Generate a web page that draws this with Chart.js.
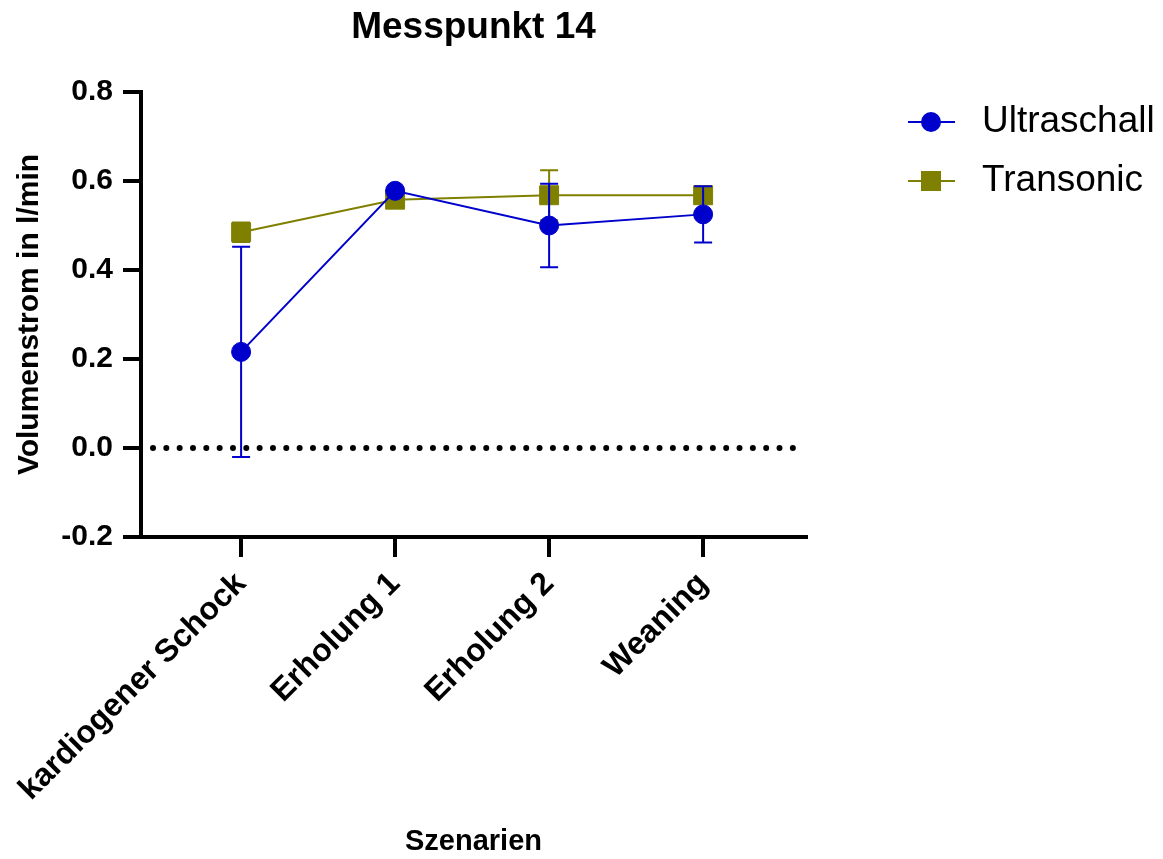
<!DOCTYPE html>
<html><head><meta charset="utf-8">
<script src="https://cdn.jsdelivr.net/npm/chart.js@4/dist/chart.umd.min.js"></script>
<style>html,body{margin:0;padding:0;background:#fff}#wrap{width:1163px;height:859px}</style>
</head><body><div id="wrap"><canvas id="c" width="1163" height="859"></canvas></div>
<script>
const categories = ['kardiogener Schock', 'Erholung 1', 'Erholung 2', 'Weaning'];
const ultraschallMean = [0.216, 0.578, 0.500, 0.525];
const ultraschallErr = [0.236, 0, 0.094, 0.063];
const transonicMean = [0.485, 0.558, 0.568, 0.568];
const transonicErr = [0.022, 0, 0.056, 0];
const yTickValues = [-0.2, 0, 0.2, 0.4, 0.6, 0.8];
const seriesNames = ['Ultraschall', 'Transonic'];

const FONT = "'Liberation Sans', Arial, Helvetica, sans-serif";
const BLUE = '#0000CC';
const OLIVE = '#808000';
Chart.defaults.color = '#000';
Chart.defaults.font.family = FONT;

const errorSets = [
  {mean: ultraschallMean, err: ultraschallErr, color: BLUE},
  {mean: transonicMean, err: transonicErr, color: OLIVE}
];

const errorBarPlugin = {
  id: 'errorBars',
  beforeDatasetDraw(chart, args) {
    const spec = errorSets[args.index];
    if (!spec) return;
    const {ctx, scales: {x, y}} = chart;
    ctx.save();
    ctx.strokeStyle = spec.color;
    ctx.lineWidth = 2;
    spec.mean.forEach((m, k) => {
      const e = spec.err[k];
      if (!e) return;
      const px = x.getPixelForValue(k);
      const yt = y.getPixelForValue(m + e);
      const yb = y.getPixelForValue(m - e);
      ctx.beginPath();
      ctx.moveTo(px, yt); ctx.lineTo(px, yb);
      ctx.moveTo(px - 9, yt); ctx.lineTo(px + 9, yt);
      ctx.moveTo(px - 9, yb); ctx.lineTo(px + 9, yb);
      ctx.stroke();
    });
    ctx.restore();
  }
};

const zeroLinePlugin = {
  id: 'zeroLine',
  beforeDatasetsDraw(chart) {
    const {ctx, chartArea, scales: {y}} = chart;
    const py = y.getPixelForValue(0);
    ctx.save();
    ctx.strokeStyle = '#000';
    ctx.lineWidth = 6;
    ctx.lineCap = 'round';
    ctx.setLineDash([0, 13.33]);
    ctx.beginPath();
    ctx.moveTo(chartArea.left + 12, py);
    ctx.lineTo(chartArea.right - 8, py);
    ctx.stroke();
    ctx.restore();
  }
};

const legendPlugin = {
  id: 'customLegend',
  afterDraw(chart) {
    const {ctx} = chart;
    const x0 = 908, x1 = 955, xm = 931, tx = 982;
    const rows = [122, 181];
    chart.data.datasets.forEach((ds, i) => {
      const yy = rows[i];
      ctx.save();
      ctx.strokeStyle = ds.borderColor;
      ctx.lineWidth = 2;
      ctx.beginPath(); ctx.moveTo(x0, yy); ctx.lineTo(x1, yy); ctx.stroke();
      ctx.fillStyle = ds.backgroundColor;
      if (ds.pointStyle === 'rect') {
        ctx.fillRect(xm - 10, yy - 10, 20, 20);
      } else {
        ctx.beginPath(); ctx.arc(xm, yy, 10, 0, Math.PI * 2); ctx.fill();
      }
      ctx.fillStyle = '#000';
      ctx.font = '37px ' + FONT;
      ctx.textBaseline = 'middle';
      ctx.textAlign = 'left';
      ctx.fillText(ds.label, tx, yy);
      ctx.restore();
    });
  }
};

const axisGrid = (len) => ({display: true, drawOnChartArea: false, drawTicks: true, tickLength: len, lineWidth: 4, color: '#000'});

new Chart(document.getElementById('c'), {
  type: 'line',
  data: {
    datasets: [
      {
        label: seriesNames[0],
        data: ultraschallMean.map((v, i) => ({x: i, y: v})),
        borderColor: BLUE, backgroundColor: BLUE, borderWidth: 2,
        pointStyle: 'circle', pointRadius: 9.5, pointBorderWidth: 1, tension: 0
      },
      {
        label: seriesNames[1],
        data: transonicMean.map((v, i) => ({x: i, y: v})),
        borderColor: OLIVE, backgroundColor: OLIVE, borderWidth: 2,
        pointStyle: 'rect', pointRadius: 13.4, pointBorderWidth: 1, tension: 0
      }
    ]
  },
  options: {
    responsive: false,
    animation: false,
    devicePixelRatio: 1,
    layout: {padding: {left: 0, right: 357, top: 0, bottom: 0}},
    plugins: {
      legend: {display: false},
      tooltip: {enabled: false},
      title: {
        display: true, text: 'Messpunkt 14', fullSize: false, color: '#000',
        font: {family: FONT, size: 37, weight: 'bold'},
        padding: {top: 6, bottom: 41.6}
      }
    },
    scales: {
      x: {
        type: 'linear', position: 'bottom', min: -0.65, max: 3.668,
        afterBuildTicks: s => { s.ticks = categories.map((c, i) => ({value: i})); },
        afterFit: s => { s.height = 322; s.paddingLeft = 0; s.paddingRight = 0; },
        ticks: {
          callback: v => categories[v] ?? '',
          minRotation: 45, maxRotation: 45, autoSkip: false,
          font: {family: FONT, size: 32, weight: 'bold'}, color: '#000', padding: 8
        },
        grid: axisGrid(20),
        border: {display: true, width: 4, color: '#000'},
        title: {display: true, text: 'Szenarien', color: '#000', font: {family: FONT, size: 29, weight: 'bold'}, padding: {top: 0, bottom: 0}}
      },
      y: {
        type: 'linear', min: -0.2, max: 0.8,
        afterBuildTicks: s => { s.ticks = yTickValues.map(v => ({value: v})); },
        afterFit: s => { s.width = 141; },
        ticks: {
          callback: v => Number(v).toFixed(1),
          font: {family: FONT, size: 30, weight: 'bold'}, color: '#000', padding: 10
        },
        grid: axisGrid(18),
        border: {display: true, width: 4, color: '#000'},
        title: {display: true, text: 'Volumenstrom in l/min', color: '#000', font: {family: FONT, size: 30, weight: 'bold'}, padding: {top: 12, bottom: 0}}
      }
    }
  },
  plugins: [zeroLinePlugin, errorBarPlugin, legendPlugin]
});
</script>
</body></html>
